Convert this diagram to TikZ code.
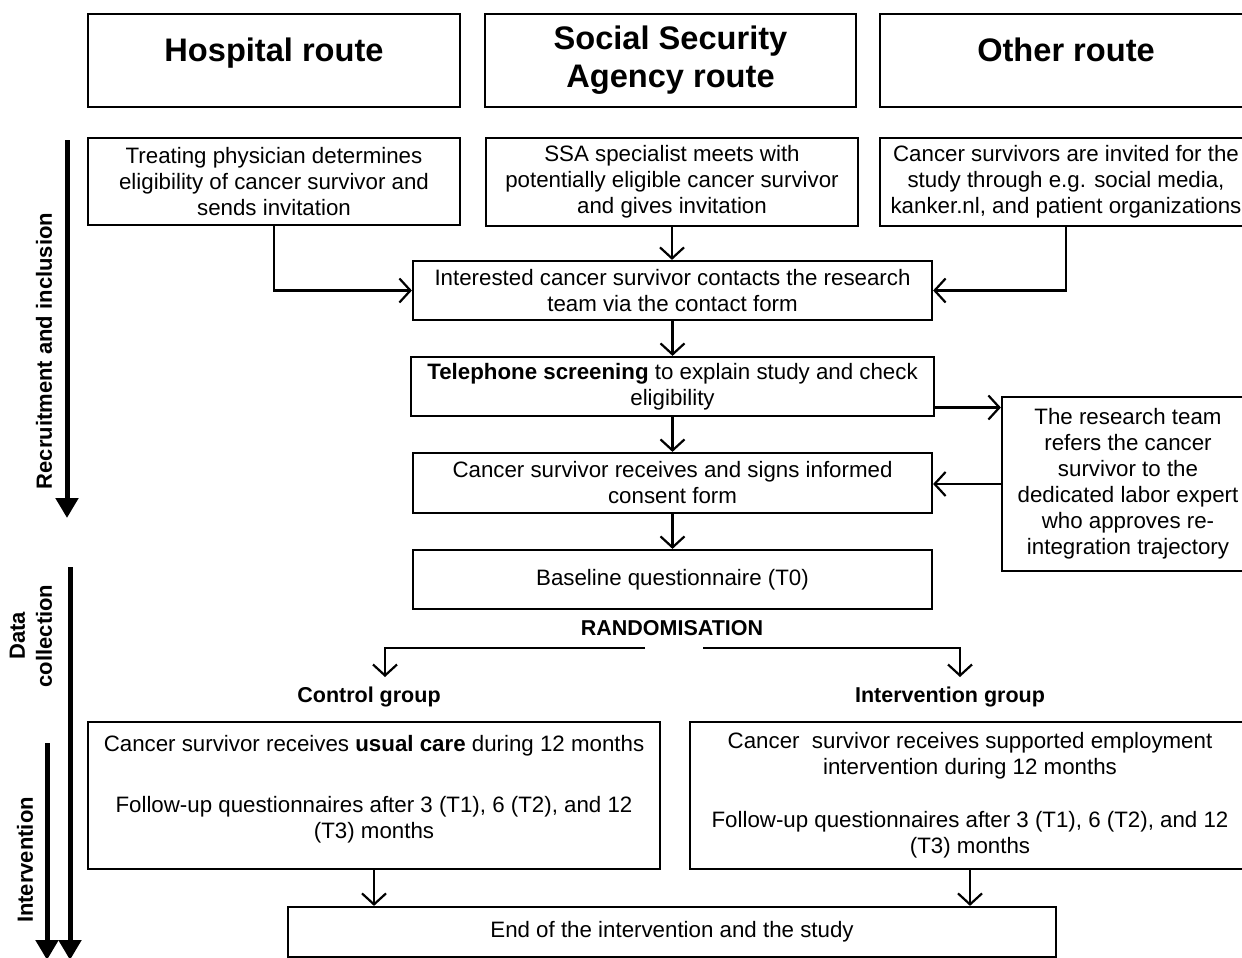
\documentclass[tikz,border=0pt]{standalone}
\usepackage{fontspec}
\setmainfont{Liberation Sans}
\usetikzlibrary{arrows.meta,calc}
\begin{document}
\begin{tikzpicture}[x=1pt,y=-1pt,
  box/.style={draw, line width=2.2pt, inner sep=0pt, align=center, font=\fontsize{22.3}{26}\selectfont},
  head/.style={box, font=\fontsize{32.6}{38}\selectfont\bfseries},
  txt/.style={inner sep=0pt, align=center, font=\fontsize{22.3}{26}\selectfont},
  btxt/.style={inner sep=0pt, align=center, font=\fontsize{21.5}{26}\selectfont\bfseries},
  side/.style={inner sep=0pt, align=center, rotate=90, font=\fontsize{22}{27}\selectfont\bfseries},
  arr/.style={line width=2.2pt, -{Straight Barb[length=11pt,width=24pt]}},
  thick arr/.style={line width=5pt, -{Triangle[length=20pt,width=22pt]}}]
\useasboundingbox (0,0) rectangle (1242,958);

% headers
\node[head, minimum width=372pt, minimum height=93pt, text depth=22pt] (hr) at (274,60.5) {Hospital route};
\node[head, minimum width=371pt, minimum height=93pt] (sr) at (670.5,60.5) {Social Security\\Agency route};
\node[head, minimum width=372pt, minimum height=93pt, text depth=22pt] (or) at (1066,60.5) {Other route};

% second row
\node[box, minimum width=372pt, minimum height=87pt] (tp) at (274,181.5) {Treating physician determines\\eligibility of cancer survivor and\\sends invitation};
\node[box, minimum width=372pt, minimum height=88pt] (ssa) at (672,182) {SSA specialist meets with\\potentially eligible cancer survivor\\and gives invitation};
\node[box, minimum width=372pt, minimum height=88pt] (cs) at (1066,182) {Cancer survivors are invited for the\\study through e.g. social media,\\kanker.nl, and patient organizations};

% main column
\node[box, minimum width=519pt, minimum height=59pt] (int) at (672.5,290.5) {Interested cancer survivor contacts the research\\team via the contact form};
\node[box, minimum width=523pt, minimum height=59pt] (tel) at (672.5,386.5) {\textbf{Telephone screening} to explain study and check\\eligibility};
\node[box, minimum width=519pt, minimum height=60pt] (con) at (672.5,483) {Cancer survivor receives and signs informed\\consent form};
\node[box, minimum width=252pt, minimum height=174pt] (rt) at (1128,484) {The research team\\refers the cancer\\survivor to the\\dedicated labor expert\\who approves re-\\integration trajectory};
\node[box, minimum width=519pt, minimum height=59pt] (base) at (672.5,579.5) {Baseline questionnaire (T0)};

% randomisation
\node[btxt] (rnd) at (672,628) {RANDOMISATION};
\node[btxt] (cg) at (369,697) {Control group};
\node[btxt] (ig) at (950,697) {Intervention group};
\coordinate (rl) at (645,648);
\coordinate (rr) at (703,648);
\coordinate (cgt) at (385,677);
\coordinate (igt) at (960,677);

% group boxes
\node[box, minimum width=572pt, minimum height=147pt] (ctl) at (374,795.5) {};
\node[txt] (ctltxt) at (374,789) {Cancer survivor receives \textbf{usual care} during 12 months\\[35pt]Follow-up questionnaires after 3 (T1), 6 (T2), and 12\\(T3) months};
\node[box, minimum width=560pt, minimum height=147pt] (itv) at (970,795.5) {Cancer\ \ survivor receives supported employment\\intervention during 12 months\\[27pt]Follow-up questionnaires after 3 (T1), 6 (T2), and 12\\(T3) months};
\node[box, minimum width=768pt, minimum height=50pt] (end) at (672,932) {End of the intervention and the study};

% connectors
\draw[arr] (tp.south) |- (int.west);
\draw[arr] (ssa.south) -- (ssa.south |- int.north);
\draw[arr] (cs.south) |- (int.east);
\draw[arr] (int.south) -- (tel.north);
\draw[arr] (tel.south) -- (tel.south |- con.north);
\draw[arr] (con.south) -- (base.north);
\draw[arr] ([yshift=-21pt]tel.east) -- ([yshift=-21pt]tel.east -| rt.west);
\draw[arr] (rt.west) -- (rt.west -| con.east);
\draw[arr] (rl) -| (cgt);
\draw[arr] (rr) -| (igt);
\draw[arr] (ctl.south) -- (ctl.south |- end.north);
\draw[arr] (itv.south) -- (itv.south |- end.north);

% side arrows
\coordinate (a1s) at (67,140);
\coordinate (a1e) at (67,518);
\coordinate (a2s) at (70,567);
\coordinate (a2e) at (70,960);
\coordinate (a3s) at (47,743);
\coordinate (a3e) at (47,960);
\draw[thick arr] (a1s) -- (a1e);
\draw[thick arr] (a2s) -- (a2e);
\draw[thick arr] (a3s) -- (a3e);
\node[side] (lab1) at (44,351) {Recruitment and inclusion};
\node[side] (lab2) at (31,636) {Data\\collection};
\node[side] (lab3) at (25,860) {Intervention};
\end{tikzpicture}
\end{document}
